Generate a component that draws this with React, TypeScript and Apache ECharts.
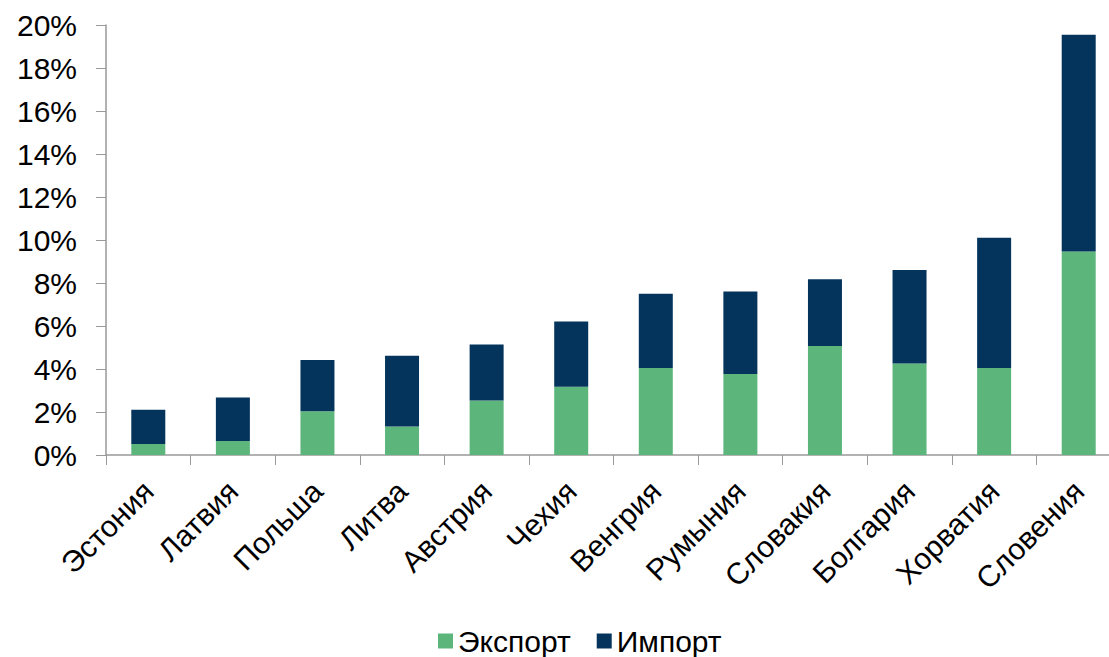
import React, { useEffect, useRef } from "react";
import * as echarts from "echarts";

const categories = ["Эстония", "Латвия", "Польша", "Литва", "Австрия", "Чехия", "Венгрия", "Румыния", "Словакия", "Болгария", "Хорватия", "Словения"];
const exportValues = [0.51, 0.65, 2.03, 1.32, 2.54, 3.18, 4.05, 3.77, 5.07, 4.26, 4.05, 9.47];
const importValues = [1.6, 2.03, 2.39, 3.3, 2.6, 3.03, 3.45, 3.83, 3.1, 4.34, 6.06, 10.08];
const seriesNames = ["Экспорт", "Импорт"];

const FONT = "'Liberation Sans', Arial, sans-serif";

export default function App() {
  const ref = useRef<HTMLDivElement>(null);
  useEffect(() => {
    const chart = echarts.init(ref.current!, undefined, { renderer: "svg" });
    chart.setOption({
      animation: false,
      textStyle: { fontFamily: FONT },
      grid: { left: 106, right: 0, top: 25, bottom: 202, containLabel: false },
      legend: {
        top: 621,
        left: 433,
        icon: "rect",
        itemWidth: 15,
        itemHeight: 15,
        itemGap: 26,
        textStyle: { fontSize: 30, color: "#000", fontFamily: FONT },
        data: seriesNames,
      },
      xAxis: {
        type: "category",
        data: categories,
        axisLine: { lineStyle: { color: "#999", width: 1.5 } },
        axisTick: { show: true, length: 10, lineStyle: { color: "#999" } },
        axisLabel: { rotate: 45, fontSize: 30, color: "#000", margin: 31, interval: 0, fontFamily: FONT },
      },
      yAxis: {
        type: "value",
        min: 0,
        max: 20,
        interval: 2,
        axisLine: { show: true, lineStyle: { color: "#999", width: 1.5 } },
        axisTick: { show: true, length: 10, lineStyle: { color: "#999" } },
        splitLine: { show: false },
        axisLabel: { formatter: "{value}%", fontSize: 30, color: "#000", margin: 29, fontFamily: FONT },
      },
      series: [
        {
          name: seriesNames[0],
          type: "bar",
          stack: "total",
          data: exportValues,
          barWidth: 34,
          itemStyle: { color: "#5cb67c" },
        },
        {
          name: seriesNames[1],
          type: "bar",
          stack: "total",
          data: importValues,
          barWidth: 34,
          itemStyle: { color: "#04345c" },
        },
      ],
    });
    return () => chart.dispose();
  }, []);
  return (
    <div style={{ position: "absolute", left: 0, top: 0, width: 1109, height: 657, overflow: "hidden" }}>
      <div ref={ref} style={{ position: "absolute", left: 0, top: 0, width: 1121, height: 657 }} />
    </div>
  );
}
